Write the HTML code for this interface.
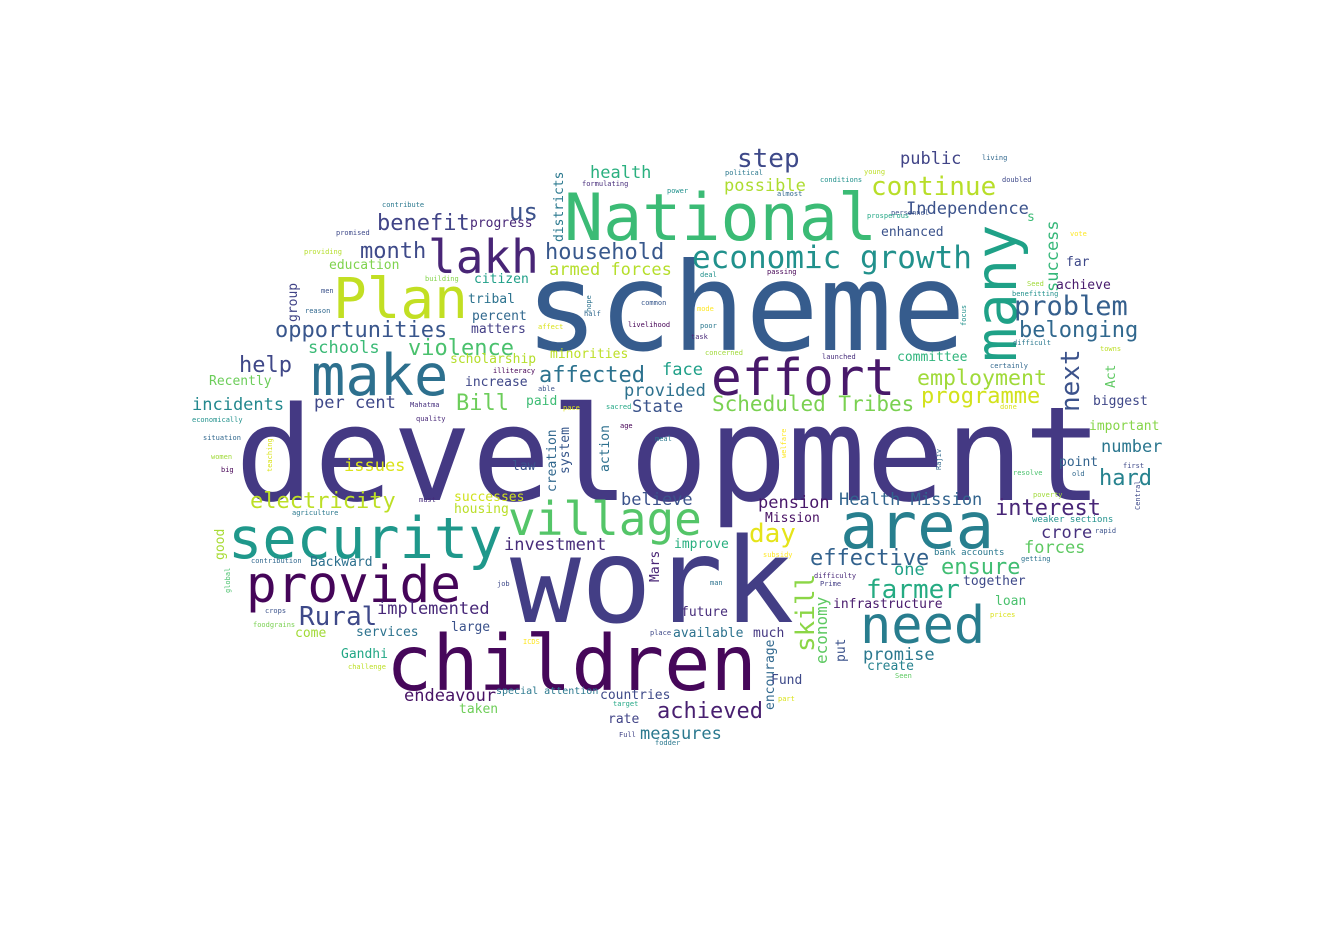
<!DOCTYPE html>
<html><head><meta charset="utf-8"><style>
html,body{margin:0;padding:0;background:#fff;}
svg{display:block;}
text{font-family:"DejaVu Sans Mono","Liberation Mono",monospace;}
</style></head><body>
<svg width="1334" height="945" viewBox="0 0 1334 945">
<rect width="1334" height="945" fill="#fff"/>
<g id="words"></g>
</svg>
<script>
// word, x, y(baseline), size, color, vertical
const words = [
["development",235,500,131,"#443983",0],
["scheme",525,350,122,"#365c8d",0],
["work",510,622,118,"#433e85",0],
["children",386,690,77,"#46075a",0],
["National",564,240,65,"#3bbb75",0],
["many",1016,362,57,"#1fa187",1],
["security",228,558,57,"#1f988b",0],
["provide",246,602,51,"#450559",0],
["area",840,548,64,"#277f8e",0],
["need",860,643,52,"#287d8e",0],
["make",311,395,57,"#2d708e",0],
["Plan",333,318,56,"#c2df23",0],
["lakh",428,273,46,"#482576",0],
["effort",711,395,51,"#48186a",0],
["village",508,535,46,"#54c568",0],
["economic growth",692,268,31,"#21918c",0],
["continue",871,195,26,"#b8de29",0],
["step",737,167,26,"#3e4989",0],
["problem",1014,315,27,"#355f8d",0],
["belonging",1019,337,22,"#31688e",0],
["household",545,259,22,"#38588c",0],
["armed forces",549,275,17,"#b5de2b",0],
["opportunities",275,337,22,"#39568c",0],
["violence",408,355,22,"#4ac16d",0],
["affected",539,382,22,"#2c728e",0],
["employment",917,385,21.6,"#a0da39",0],
["programme",921,403,22,"#d2e21b",0],
["Scheduled Tribes",712,411,21,"#7ad151",0],
["next",1079,412,26,"#3b528b",1],
["month",360,258,22,"#3e4a89",0],
["benefit",377,230,22,"#414487",0],
["us",509,220,24,"#3b528b",0],
["help",239,372,22,"#3f4788",0],
["incidents",192,410,17,"#23888e",0],
["electricity",250,508,22,"#bddf26",0],
["issues",344,471,17,"#dae319",0],
["Bill",456,410,22,"#6ccd5a",0],
["per cent",314,408,17,"#3f4889",0],
["day",749,542,26,"#e5e419",0],
["Rural",299,625,26,"#3e4989",0],
["implemented",377,614,17,"#482878",0],
["investment",504,550,17,"#472c7a",0],
["endeavour",404,701,17,"#471365",0],
["achieved",657,718,22,"#481f70",0],
["measures",640,739,17,"#2a788e",0],
["skill",814,652,26,"#8bd646",1],
["economy",827,664,16,"#5ec962",1],
["farmer",866,598,26,"#25ab82",0],
["ensure",941,574,22,"#40bd72",0],
["effective",810,565,22,"#33628d",0],
["interest",995,515,22,"#482677",0],
["hard",1099,485,22,"#26828e",0],
["crore",1041,538,17,"#46307e",0],
["forces",1024,553,17,"#5ec962",0],
["number",1101,452,17,"#2a768e",0],
["pension",758,508,17,"#48186a",0],
["Health Mission",839,505,17,"#32648e",0],
["believe",621,505,17,"#3b528b",0],
["face",662,375,17,"#1fa088",0],
["provided",624,396,17,"#2d718e",0],
["State",632,412,17,"#3a538b",0],
["health",590,178,17,"#2ab07f",0],
["possible",724,191,17,"#addc30",0],
["public",900,164,17,"#414487",0],
["Independence",906,214,17,"#3b528b",0],
["success",1058,292,17,"#35b779",1],
["s",1027,221,13,"#3bbb75",0],
["enhanced",881,236,13,"#3b528b",0],
["far",1066,266,13,"#3e4989",0],
["achieve",1056,289,13,"#481b6d",0],
["biggest",1093,405,13,"#3f4788",0],
["important",1089,430,13,"#86d549",0],
["point",1059,466,13,"#33638d",0],
["Act",1115,388,13,"#5ec962",1],
["promise",863,660,17,"#2a788e",0],
["create",867,670,13,"#26828e",0],
["one",894,575,17,"#1fa187",0],
["together",963,585,13,"#3e4989",0],
["loan",995,605,13,"#4ac16d",0],
["infrastructure",833,608,13,"#481a6c",0],
["future",681,616,13,"#472d7b",0],
["available",673,637,13,"#2c728e",0],
["much",753,637,13,"#453781",0],
["put",845,662,13,"#3b528b",1],
["encourage",774,710,13,"#31688e",1],
["Fund",771,684,13,"#3e4989",0],
["improve",674,548,13,"#29af7f",0],
["Mission",765,522,13,"#471063",0],
["countries",600,699,13,"#3e4a89",0],
["rate",608,723,13,"#414487",0],
["large",451,631,13,"#3b528b",0],
["services",356,636,13,"#2c728e",0],
["come",295,637,13,"#a2da37",0],
["Gandhi",341,658,13,"#22a785",0],
["special attention",496,694,10,"#2a788e",0],
["taken",459,713,13,"#6ece58",0],
["Backward",310,566,13,"#2d708e",0],
["good",224,560,13,"#a8db34",1],
["law",512,470,13,"#3a548c",0],
["creation",556,492,13,"#31688e",1],
["system",569,474,13,"#38588c",1],
["action",609,472,13,"#2d708e",1],
["Mars",659,582,13,"#482475",1],
["housing",454,513,13,"#bade28",0],
["successes",454,501,13,"#d0e11c",0],
["paid",526,405,13,"#3dbc74",0],
["increase",465,386,13,"#3f4788",0],
["minorities",550,358,13,"#bddf26",0],
["scholarship",450,363,13,"#b5de2b",0],
["schools",308,353,17,"#3aba76",0],
["Recently",209,385,13,"#6ccd5a",0],
["percent",472,320,13,"#31688e",0],
["matters",471,333,13,"#433e85",0],
["tribal",468,303,13,"#2c728e",0],
["citizen",474,283,13,"#1f9f88",0],
["education",329,269,13,"#7fd34e",0],
["group",297,322,13,"#414487",1],
["progress",470,227,13,"#482878",0],
["districts",563,242,13,"#2a788e",1],
["committee",897,361,13,"#2fb47c",0],
["contribute",382,207,7,"#2a788e",0],["promised",336,235,7,"#3e4989",0],["providing",304,254,7,"#b5de2b",0],
["building",425,281,7,"#84d44b",0],["men",321,293,7,"#3b528b",0],["reason",305,313,7,"#31688e",0],
["half",584,316,7,"#31688e",0],["common",641,305,7,"#38588c",0],["livelihood",628,327,7,"#440154",0],
["affect",538,329,7,"#dae319",0],["poor",700,328,7,"#2a788e",0],["mode",697,311,7,"#fde725",0],
["task",691,339,7,"#482878",0],["deal",700,277,7,"#21918c",0],["passing",767,274,7,"#440154",0],
["launched",822,359,7,"#472d7b",0],["concerned",705,355,7,"#a0da39",0],["illiteracy",493,373,7,"#440154",0],
["able",538,391,7,"#3b528b",0],["Mahatma",410,407,7,"#46307e",0],["sacred",606,409,7,"#22a785",0],
["pace",563,410,7,"#dae319",0],["quality",416,421,7,"#482878",0],["age",620,428,7,"#440154",0],
["meal",655,441,7,"#2a788e",0],["economically",192,422,7,"#21918c",0],["situation",203,440,7,"#31688e",0],
["women",211,459,7,"#a0da39",0],["big",221,472,7,"#440154",0],["must",419,502,7,"#472d7b",0],
["agriculture",292,515,7,"#2a788e",0],["contribution",251,563,7,"#31688e",0],["crops",265,613,7,"#3b528b",0],
["foodgrains",253,627,7,"#7ad151",0],["job",497,586,7,"#3e4989",0],["man",710,585,7,"#2c728e",0],
["ICDS",523,644,7,"#fde725",0],["challenge",348,669,7,"#bddf26",0],["place",650,635,7,"#3e4989",0],
["target",613,706,7,"#22a785",0],["Full",619,737,7,"#414487",0],["fodder",655,745,7,"#2a788e",0],
["part",778,701,7,"#dae319",0],["Seen",895,678,7,"#5ec962",0],["difficulty",814,578,7,"#482878",0],
["Prime",820,586,7,"#433e85",0],["subsidy",763,557,7,"#fde725",0],["bank accounts",934,555,9,"#2a788e",0],
["getting",1021,561,7,"#2c728e",0],["rapid",1095,533,7,"#3b528b",0],["weaker sections",1032,522,9,"#21918c",0],
["poverty",1033,497,7,"#a0da39",0],["resolve",1013,475,7,"#4ac16d",0],["old",1072,476,7,"#31688e",0],
["first",1123,468,7,"#3e4989",0],["done",1000,409,7,"#dae319",0],["certainly",990,368,7,"#31688e",0],
["difficult",1013,345,7,"#2a788e",0],["towns",1100,351,7,"#bddf26",0],["vote",1070,236,7,"#fde725",0],
["Seed",1027,286,7,"#a0da39",0],["benefitting",1012,296,7,"#21918c",0],["personnel",891,215,7,"#3b528b",0],
["prosperous",867,218,7,"#22a785",0],["young",864,174,7,"#bddf26",0],["conditions",820,182,7,"#21918c",0],
["almost",777,196,7,"#31688e",0],["political",725,175,7,"#2a788e",0],["power",667,193,7,"#21918c",0],
["formulating",582,186,7,"#472d7b",0],["living",982,160,7,"#31688e",0],["doubled",1002,182,7,"#3e4989",0],
["prices",990,617,7,"#dae319",0],
["hope",591,312,7,"#2c728e",1],["teaching",272,472,7,"#dae319",1],["global",230,593,7,"#4ac16d",1],
["Central",1140,510,7,"#3e4989",1],["focus",966,326,7,"#21918c",1],["Rajiv",941,470,7,"#31688e",1],
["welfare",786,458,7,"#fde725",1]
];
const g = document.getElementById('words');
const NS = "http://www.w3.org/2000/svg";
for (const w of words) {
  const t = document.createElementNS(NS, 'text');
  t.textContent = w[0];
  t.setAttribute('x', w[1]);
  t.setAttribute('y', w[2]);
  t.setAttribute('font-size', w[3]);
  t.setAttribute('fill', w[4]);
  if (w[5]) t.setAttribute('transform', 'rotate(-90 ' + w[1] + ' ' + w[2] + ')');
  
  
  g.appendChild(t);
}
</script>
</body></html>
